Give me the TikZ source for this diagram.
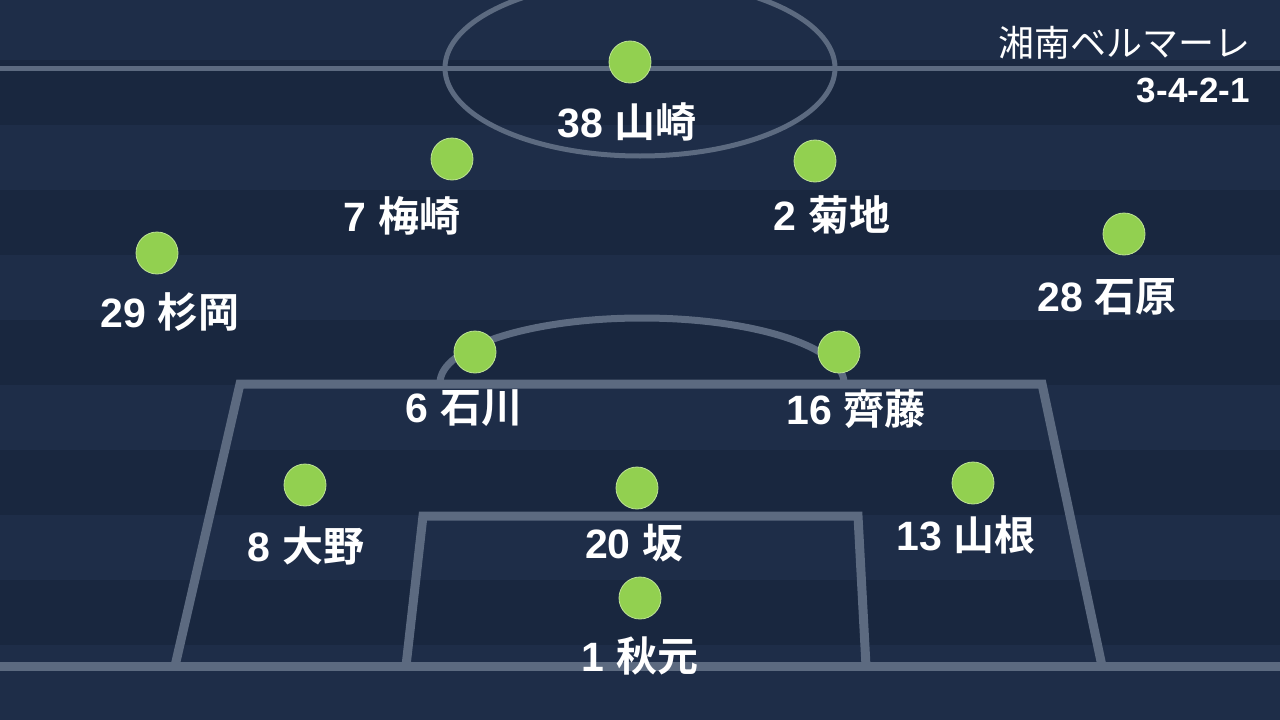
\documentclass[tikz,border=0pt]{standalone}
\usepackage{fontspec}
\setmainfont{Liberation Sans}
\newfontfamily\jpfont{Noto Sans CJK JP}[BoldFont={Noto Sans CJK JP Bold}]

\definecolor{PitchNavy}{RGB}{30, 45, 72}
\definecolor{PitchDark}{RGB}{25, 39, 63}
\definecolor{LineGray}{RGB}{92, 106, 128}
\definecolor{PlayerGreen}{RGB}{146, 208, 80}

\begin{document}
\begin{tikzpicture}[x=1pt, y=-1pt,
    player/.style={circle, fill=PlayerGreen, draw=PlayerGreen!60!white, line width=0.8pt, minimum size=42pt, inner sep=0pt},
    pname/.style={text=white, font=\fontsize{41}{45}\selectfont\bfseries, inner sep=0pt},
    team/.style={text=white, font=\fontsize{36}{40}\selectfont, inner sep=0pt, anchor=east}]

\useasboundingbox (0,0) rectangle (1280,720);
\clip (0,0) rectangle (1280,720);

\fill[PitchNavy] (0,0) rectangle (1280,720);
\foreach \y in {60,190,320,450,580}
  \fill[PitchDark] (0,\y) rectangle (1280,\y+65);

\draw[LineGray, line width=5pt] (0,68) -- (1280,68);
\draw[LineGray, line width=5pt] (640,68) ellipse [x radius=195, y radius=88];
\draw[LineGray, line width=7pt] (440,383) arc [start angle=180, end angle=360, x radius=202, y radius=65];
\draw[LineGray, line width=9pt, line join=miter] (175,666) -- (240,384) -- (1042,384) -- (1102,666);
\draw[LineGray, line width=9pt, line join=miter] (406,666) -- (423,516) -- (858,516) -- (866,666);
\draw[LineGray, line width=9pt] (0,666) -- (1280,666);

\node[team] (club) at (1251,43) {\jpfont 湘南ベルマーレ};
\node[team, font=\fontsize{35}{39}\selectfont\bfseries] (formation) at (1250,90) {3-4-2-1};

\node[player] (p38) at (630,62) {};
\node[pname] (n38) at (627,122) {38 {\jpfont 山崎}};
\node[player] (p7) at (452,159) {};
\node[pname] (n7) at (402,216) {7 {\jpfont 梅崎}};
\node[player] (p2) at (815,161) {};
\node[pname] (n2) at (832,215) {2 {\jpfont 菊地}};
\node[player] (p29) at (157,253) {};
\node[pname] (n29) at (170,312) {29 {\jpfont 杉岡}};
\node[player] (p28) at (1124,234) {};
\node[pname] (n28) at (1107,297) {28 {\jpfont 石原}};
\node[player] (p6) at (475,352) {};
\node[pname] (n6) at (464,408) {6 {\jpfont 石川}};
\node[player] (p16) at (839,352) {};
\node[pname] (n16) at (856,409) {16 {\jpfont 齊藤}};
\node[player] (p8) at (305,485) {};
\node[pname] (n8) at (306,546) {8 {\jpfont 大野}};
\node[player] (p20) at (637,488) {};
\node[pname] (n20) at (634,543) {20 {\jpfont 坂}};
\node[player] (p13) at (973,483) {};
\node[pname] (n13) at (966,535) {13 {\jpfont 山根}};
\node[player] (p1) at (640,598) {};
\node[pname] (n1) at (640,656) {1 {\jpfont 秋元}};

\end{tikzpicture}
\end{document}
